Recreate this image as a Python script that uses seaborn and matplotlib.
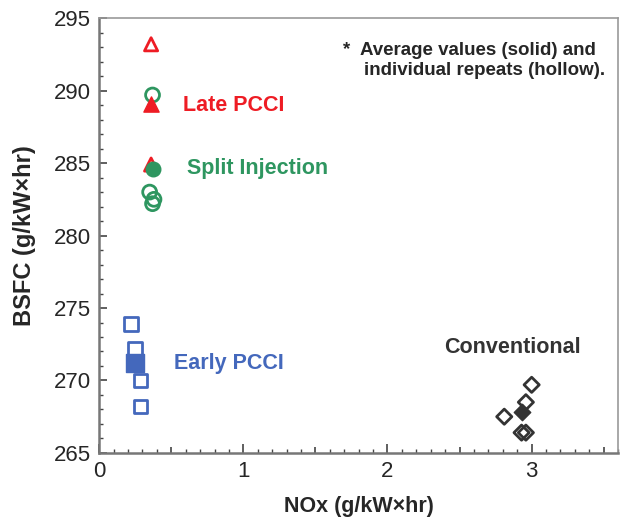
import pandas as pd
import seaborn as sns
import matplotlib.pyplot as plt
from matplotlib.ticker import MultipleLocator, FuncFormatter

# NOx (g/kW-hr) and BSFC (g/kW-hr)
late_x = [0.36, 0.36]
late_y = [293.2, 284.9]
late_avg_x = [0.36]
late_avg_y = [289.1]

split_x = [0.37, 0.35, 0.38, 0.37]
split_y = [289.7, 283.0, 282.5, 282.2]
split_avg_x = [0.37]
split_avg_y = [284.6]

early_x = [0.22, 0.25, 0.285, 0.285]
early_y = [273.9, 272.2, 270.0, 268.2]
early_avg_x = [0.245]
early_avg_y = [271.2]

conv_x = [3.0, 2.96, 2.81, 2.93, 2.96]
conv_y = [269.7, 268.5, 267.5, 266.4, 266.4]
conv_avg_x = [2.93]
conv_avg_y = [267.8]

labels = ["Late PCCI", "Split Injection", "Early PCCI", "Conventional"]
label_x = [0.58, 0.61, 0.52, 2.39]
label_y = [289.0, 284.6, 271.2, 272.3]

red = "#ee1c24"
green = "#2e9660"
blue = "#4468bc"
dark = "#333333"

sns.set_style("ticks")
plt.rcParams["font.family"] = ["Liberation Sans", "DejaVu Sans"]

fig, ax = plt.subplots(figsize=(6.2, 5.2), dpi=100)
fig.subplots_adjust(left=0.16, right=0.997, bottom=0.129, top=0.965)

groups = [
    (split_x, split_y, split_avg_x, split_avg_y, green, "o", 100, 110),
    (late_x, late_y, late_avg_x, late_avg_y, red, "^", 90, 120),
    (early_x, early_y, early_avg_x, early_avg_y, blue, "s", 95, 150),
    (conv_x, conv_y, conv_avg_x, conv_avg_y, dark, "D", 60, 70),
]
for hx, hy, ax_, ay, col, mk, s_h, s_a in groups:
    hollow = pd.DataFrame({"nox": hx, "bsfc": hy})
    avg = pd.DataFrame({"nox": ax_, "bsfc": ay})
    sns.scatterplot(data=hollow, x="nox", y="bsfc", marker=mk, s=s_h,
                    facecolor="none", edgecolor=col, linewidth=2, ax=ax,
                    zorder=3)
    sns.scatterplot(data=avg, x="nox", y="bsfc", marker=mk, s=s_a,
                    color=col, edgecolor=col, linewidth=1, ax=ax, zorder=4)

for lab, x, y, col in zip(labels, label_x, label_y, [red, green, blue, dark]):
    ax.text(x, y, lab, color=col, fontsize=15.5, fontweight="bold",
            va="center", ha="left")

ax.text(0.47, 0.945, "*  Average values (solid) and\n    individual repeats (hollow).",
        transform=ax.transAxes, fontsize=13.5, fontweight="bold",
        va="top", ha="left", linespacing=1.2)

ax.set_xlim(0, 3.6)
ax.set_ylim(265, 295)
# x: major every 0.5 (labels only on integers), minor every 0.1
ax.xaxis.set_major_locator(MultipleLocator(0.5))
ax.xaxis.set_major_formatter(
    FuncFormatter(lambda v, p: f"{v:.0f}" if abs(v - round(v)) < 1e-6 else ""))
ax.xaxis.set_minor_locator(MultipleLocator(0.1))
ax.yaxis.set_major_locator(MultipleLocator(5))
ax.yaxis.set_minor_locator(MultipleLocator(1))
ax.tick_params(which="both", bottom=True, left=True, top=False, right=False)
ax.tick_params(which="major", direction="in", length=6, width=1.2,
               labelsize=16, pad=6, color="#444444")
ax.tick_params(which="minor", direction="in", length=3, width=1,
               color="#444444")
ax.tick_params(axis="x", which="major", length=4.5)
fig.canvas.draw()
for loc, tick in zip(ax.xaxis.get_majorticklocs(), ax.xaxis.get_major_ticks()):
    if abs(loc - round(loc)) < 1e-6:
        tick.tick1line.set_markersize(6.5)

for side in ["left", "bottom"]:
    ax.spines[side].set_color("#777777")
    ax.spines[side].set_linewidth(1.8)
for side in ["top", "right"]:
    ax.spines[side].set_color("#999999")
    ax.spines[side].set_linewidth(1.2)

ax.set_xlabel("NOx (g/kW\u00d7hr)", fontsize=15.5, fontweight="bold", labelpad=10)
ax.set_ylabel("BSFC (g/kW\u00d7hr)", fontsize=17, fontweight="bold", labelpad=13)

fig.savefig("out.png", dpi=100)
